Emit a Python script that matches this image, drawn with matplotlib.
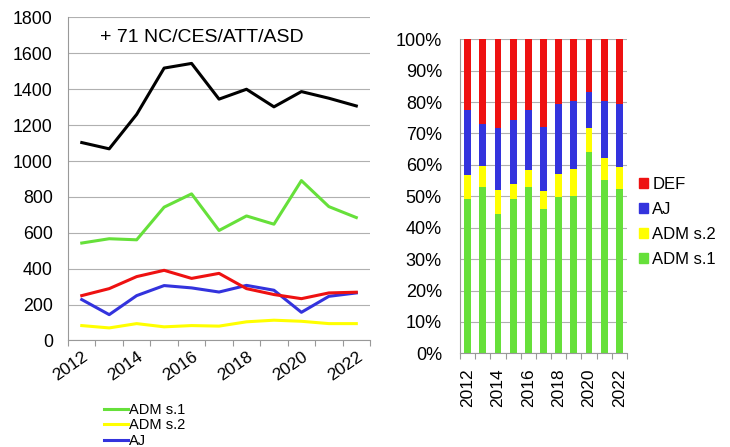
import matplotlib
matplotlib.use("Agg")
import matplotlib.pyplot as plt
from matplotlib.patches import Patch
import numpy as np

plt.rcParams['font.family'] = ['Liberation Sans', 'DejaVu Sans']

years = [2012, 2013, 2014, 2015, 2016, 2017, 2018, 2019, 2020, 2021, 2022]
total = [1103, 1068, 1260, 1518, 1544, 1345, 1400, 1302, 1387, 1350, 1307]
adm_s1 = [543, 567, 561, 743, 817, 613, 694, 648, 891, 746, 685]
adm_s2 = [83, 70, 94, 76, 83, 80, 104, 113, 107, 94, 94]
aj = [228, 144, 250, 306, 293, 270, 307, 280, 157, 246, 265]
deff = [250, 289, 356, 391, 346, 374, 289, 256, 233, 265, 269]
tick_years = [2012, 2014, 2016, 2018, 2020, 2022]

GREEN = '#66e03a'
YELLOW = '#ffff00'
BLUE = '#3333dd'
RED = '#ee1111'
GRID = '#b0b0b0'

fig = plt.figure(figsize=(7.30, 4.47), dpi=100)

# ---------- left chart ----------
ax = fig.add_axes([0.0932, 0.2383, 0.4137, 0.7226])
x = np.arange(len(years))
ax.plot(x, total, color='black', lw=2.2)
l1, = ax.plot(x, adm_s1, color=GREEN, lw=2.2, label='ADM s.1')
l2, = ax.plot(x, adm_s2, color=YELLOW, lw=2.2, label='ADM s.2')
l3, = ax.plot(x, aj, color=BLUE, lw=2.2, label='AJ')
ax.plot(x, deff, color=RED, lw=2.2, label='DEF')
ax.set_xlim(-0.5, len(years) - 0.5)
ax.set_ylim(0, 1800)
ax.set_yticks(range(0, 1801, 200))
ax.yaxis.grid(True, color=GRID, lw=0.8)
ax.set_axisbelow(True)
for s in ['top', 'right']:
    ax.spines[s].set_visible(False)
for s in ['left', 'bottom']:
    ax.spines[s].set_color('#999999')
ax.tick_params(axis='y', length=0, labelsize=12.8, pad=11)
ax.set_xticks(np.arange(len(years) + 1) - 0.5)
ax.set_xticklabels([])
ax.tick_params(axis='x', which='major', length=4, color='#999999', direction='out')
pos = [years.index(y) for y in tick_years]
ax.set_xticks(pos, minor=True)
ax.set_xticklabels([str(y) for y in tick_years], minor=True, rotation=35,
                   ha='right', rotation_mode='anchor', fontsize=12.5)
ax.tick_params(axis='x', which='minor', length=0, pad=6)
ax.text(0.105, 0.965, '+ 71 NC/CES/ATT/ASD', transform=ax.transAxes,
        fontsize=14, va='top', ha='left')
fig.legend(handles=[l1, l2, l3], loc='upper left',
           bbox_to_anchor=(0.143, 44 / 447), bbox_transform=fig.transFigure,
           frameon=False, fontsize=10.5, handlelength=1.6, handletextpad=0.1,
           labelspacing=0.1, borderaxespad=0, borderpad=0)

# ---------- right chart ----------
ax2 = fig.add_axes([0.6301, 0.2096, 0.2288, 0.7025])
tot4 = np.array(adm_s1) + np.array(adm_s2) + np.array(aj) + np.array(deff)
series = [('ADM s.1', adm_s1, GREEN), ('ADM s.2', adm_s2, YELLOW),
          ('AJ', aj, BLUE), ('DEF', deff, RED)]
bottom = np.zeros(len(years))
for name, vals, col in series:
    frac = np.array(vals) / tot4
    ax2.bar(x, frac, bottom=bottom, width=0.45, color=col, label=name)
    bottom += frac
ax2.set_xlim(-0.5, len(years) - 0.5)
ax2.set_ylim(0, 1)
ax2.set_yticks(np.linspace(0, 1, 11))
ax2.set_yticklabels([f'{int(round(v*100))}%' for v in np.linspace(0, 1, 11)])
ax2.yaxis.grid(True, color=GRID, lw=0.8)
ax2.set_axisbelow(True)
for s in ['top', 'right']:
    ax2.spines[s].set_visible(False)
for s in ['left', 'bottom']:
    ax2.spines[s].set_color('#999999')
ax2.tick_params(axis='y', length=0, labelsize=13, pad=13)
ax2.set_xticks(np.arange(len(years) + 1) - 0.5)
ax2.set_xticklabels([])
ax2.tick_params(axis='x', which='major', length=4, color='#999999', direction='out')
ax2.set_xticks(pos, minor=True)
ax2.set_xticklabels([str(y) for y in tick_years], minor=True, rotation=90,
                    fontsize=12.5)
ax2.tick_params(axis='x', which='minor', length=0, pad=11)
handles = [Patch(color=c, label=n) for n, _, c in series][::-1]
fig.legend(handles=handles, loc='upper left', bbox_to_anchor=(0.866, 0.62),
           frameon=False, fontsize=12, handlelength=0.55, handleheight=0.55,
           handletextpad=0.25, labelspacing=0.6, borderaxespad=0)

fig.savefig('out.png', dpi=100)
